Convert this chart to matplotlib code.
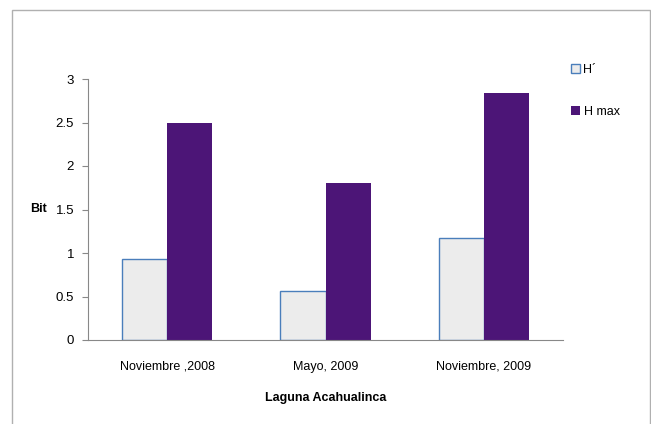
import matplotlib.pyplot as plt
import numpy as np
from matplotlib.patches import Rectangle

plt.rcParams['font.family'] = ['Liberation Sans Narrow', 'Liberation Sans', 'DejaVu Sans']

categories = ["Noviembre ,2008", "Mayo, 2009", "Noviembre, 2009"]
h_prime = [0.93, 0.56, 1.17]
h_max = [2.49, 1.80, 2.84]
y_ticks = [0, 0.5, 1, 1.5, 2, 2.5, 3]
y_tick_labels = ["0", "0.5", "1", "1.5", "2", "2.5", "3"]

fig = plt.figure(figsize=(6.51, 4.24), dpi=100)
# outer chart border
fig.patches.append(Rectangle((12 / 651, -0.01), 638 / 651, 1 - 10 / 424 + 0.01,
                             transform=fig.transFigure, fill=False,
                             edgecolor='#b0b0b0', linewidth=1))

ax = fig.add_axes([88 / 651, 1 - 340 / 424, 475 / 651, 261 / 424])

x = np.arange(len(categories))
w = 0.285
ax.bar(x - w / 2, h_prime, w, color='#ececec', edgecolor='#4a7ebb',
       linewidth=1, label="H\u00b4")
ax.bar(x + w / 2, h_max, w, color='#4c1577', edgecolor='none', label="H max")

ax.set_xlim(-0.5, len(categories) - 0.5)
ax.set_ylim(0, 3)
ax.set_yticks(y_ticks)
ax.set_yticklabels(y_tick_labels, fontsize=9.5)
ax.set_xticks(x)
ax.set_xticklabels(categories, fontsize=9)
ax.tick_params(axis='x', length=0, pad=15)
ax.tick_params(axis='y', length=4, color='#888888', pad=6)
for side in ['top', 'right']:
    ax.spines[side].set_visible(False)
for side in ['left', 'bottom']:
    ax.spines[side].set_color('#888888')

ax.set_ylabel("Bit", fontsize=9, fontweight='bold', rotation=0, labelpad=12, va='center')
ax.set_xlabel("Laguna Acahualinca", fontsize=9, fontweight='bold', labelpad=14)

fig.legend(loc='upper left', bbox_to_anchor=(566 / 651, 1 - 59 / 424),
           frameon=False, fontsize=9, handlelength=0.7, handleheight=0.7,
           handletextpad=0.3, labelspacing=2.4, borderaxespad=0)

fig.savefig("out.png", dpi=100)
